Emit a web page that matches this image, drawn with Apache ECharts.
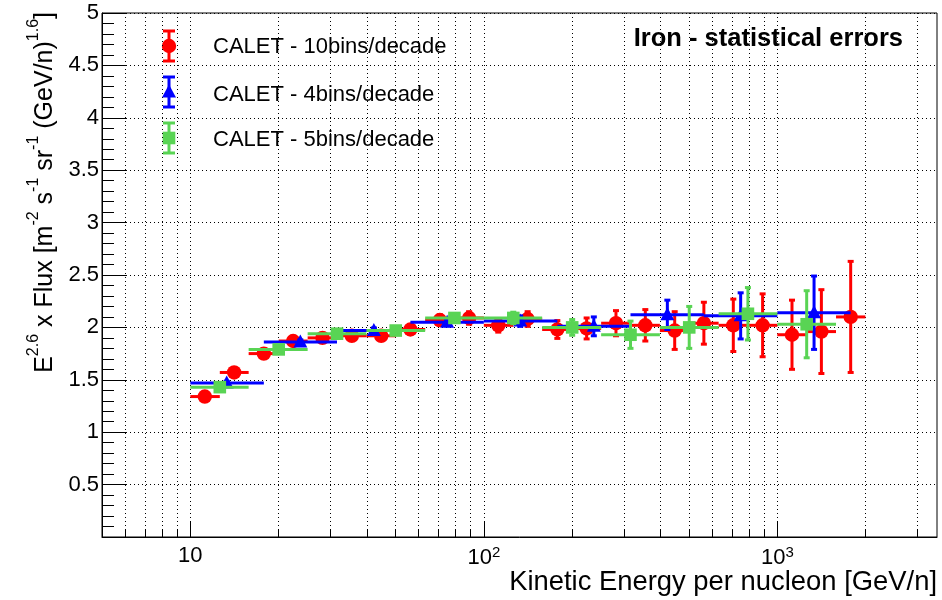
<!DOCTYPE html>
<html>
<head>
<meta charset="utf-8">
<script src="https://cdn.jsdelivr.net/npm/echarts@6/dist/echarts.min.js"></script>
<style>
  html, body { margin: 0; padding: 0; background: #ffffff; }
  #chart { width: 942px; height: 600px; }
</style>
</head>
<body>
<div id="chart"></div>
<script>
// CALET iron spectrum, flux multiplied by E^2.6, for three energy binnings.
const FONT = '"Liberation Sans", Arial, Helvetica, sans-serif';

// 10 bins per decade
const red10Energy = [11.2, 14.1, 17.8, 22.4, 28.2, 35.5, 44.7, 56.2, 70.8, 89.1, 112, 141, 178, 224, 282, 355, 447, 562, 708, 891, 1122, 1413, 1778];
const red10Edges = [10, 12.6, 15.8, 20.0, 25.1, 31.6, 39.8, 50.1, 63.1, 79.4, 100, 126, 158, 200, 251, 316, 398, 501, 631, 794, 1000, 1259, 1585, 1995];
const red10Flux = [1.34, 1.57, 1.75, 1.87, 1.90, 1.92, 1.92, 1.98, 2.07, 2.09, 2.02, 2.08, 1.98, 1.99, 2.04, 2.02, 1.97, 2.04, 2.02, 2.02, 1.93, 1.96, 2.10];
const red10Err = [0.02, 0.02, 0.025, 0.03, 0.03, 0.035, 0.04, 0.045, 0.05, 0.06, 0.065, 0.07, 0.085, 0.10, 0.12, 0.15, 0.18, 0.20, 0.25, 0.30, 0.33, 0.40, 0.53];

// 4 bins per decade
const blue4Energy = [13.3, 23.7, 42.2, 75.0, 133, 237, 422, 750, 1334];
const blue4Edges = [10, 17.8, 31.6, 56.2, 100, 178, 316, 562, 1000, 1778];
const blue4Flux = [1.47, 1.86, 1.97, 2.05, 2.06, 2.01, 2.12, 2.11, 2.14];
const blue4Err = [0.015, 0.02, 0.025, 0.035, 0.05, 0.09, 0.14, 0.22, 0.35];

// 5 bins per decade
const green5Energy = [12.6, 20.0, 31.6, 50.1, 79.4, 126, 200, 316, 501, 794, 1259];
const green5Edges = [10, 15.8, 25.1, 39.8, 63.1, 100, 158, 251, 398, 631, 1000, 1585];
const green5Flux = [1.43, 1.79, 1.94, 1.97, 2.09, 2.09, 2.00, 1.93, 2.00, 2.13, 2.03];
const green5Err = [0.015, 0.02, 0.025, 0.03, 0.04, 0.055, 0.075, 0.13, 0.20, 0.25, 0.32];

// axis ticks
const xMajorTicks = [10, 100, 1000];
const xAllTicks = [6, 7, 8, 9, 10, 20, 30, 40, 50, 60, 70, 80, 90, 100, 200, 300, 400, 500, 600, 700, 800, 900, 1000, 2000, 3000];
const legendLabels = ['CALET - 10bins/decade', 'CALET - 4bins/decade', 'CALET - 5bins/decade'];

const RED = '#ff0000', BLUE = '#0000ff', GREEN = '#59d454';
const LW = 3;

function markerShape(shape, cx, cy, color) {
  if (shape === 'circle') {
    return { type: 'circle', shape: { cx, cy, r: 7.2 }, style: { fill: color } };
  }
  if (shape === 'triangle') {
    return { type: 'polygon', shape: { points: [[cx, cy - 7.5], [cx - 7, cy + 5.5], [cx + 7, cy + 5.5]] }, style: { fill: color } };
  }
  return { type: 'rect', shape: { x: cx - 6.3, y: cy - 6.3, width: 12.6, height: 12.6 }, style: { fill: color } };
}

function errorSeries(name, color, shape, energy, edges, flux, err) {
  const data = energy.map((e, i) => [e, flux[i], edges[i], edges[i + 1], err[i]]);
  return {
    type: 'custom',
    name,
    data,
    encode: { x: [0, 2, 3], y: 1 },
    clip: true,
    renderItem(params, api) {
      const x = api.value(0), y = api.value(1);
      const lo = api.value(2), hi = api.value(3), e = api.value(4);
      const c = api.coord([x, y]);
      const pl = api.coord([lo, y]);
      const ph = api.coord([hi, y]);
      const pt = api.coord([x, y + e]);
      const pb = api.coord([x, y - e]);
      const ls = { stroke: color, lineWidth: LW };
      const cap = 3;
      const line = (x1, y1, x2, y2) => ({ type: 'line', shape: { x1, y1, x2, y2 }, style: ls });
      return {
        type: 'group',
        children: [
          line(pl[0], c[1], ph[0], c[1]),
          line(c[0], pt[1], c[0], pb[1]),
          line(c[0] - cap, pt[1], c[0] + cap, pt[1]),
          line(c[0] - cap, pb[1], c[0] + cap, pb[1]),
          markerShape(shape, c[0], c[1], color)
        ]
      };
    }
  };
}

function legendEntry(i, color, shape, label, ty) {
  const cx = 169, cy = 46 + i * 46;
  const ls = { stroke: color, lineWidth: LW };
  return [
    { type: 'line', shape: { x1: cx, y1: cy - 15, x2: cx, y2: cy + 15 }, style: ls },
    { type: 'line', shape: { x1: cx - 6, y1: cy - 15, x2: cx + 6, y2: cy - 15 }, style: ls },
    { type: 'line', shape: { x1: cx - 6, y1: cy + 15, x2: cx + 6, y2: cy + 15 }, style: ls },
    markerShape(shape, cx, cy, color),
    { type: 'text', x: 213, y: ty, style: { text: label, fill: '#000', fontSize: 22, fontFamily: FONT, align: 'left', verticalAlign: 'middle' } }
  ];
}

const chart = echarts.init(document.getElementById('chart'), null, { renderer: 'canvas' });

const dotted = { color: '#000', width: 1, type: [1, 3] };

chart.setOption({
  animation: false,
  backgroundColor: '#ffffff',
  grid: { left: 102, right: 5, top: 13, bottom: 63, show: true, borderColor: '#000', borderWidth: 1, containLabel: false },
  xAxis: [{
    type: 'log', logBase: 10, min: 5, max: 3500, position: 'bottom',
    axisLine: { show: true, lineStyle: { color: '#000', width: 1 } },
    axisTick: { show: true, inside: true, length: 8, customValues: xAllTicks, lineStyle: { color: '#000', width: 1 } },
    minorTick: { show: false },
    axisLabel: {
      customValues: xMajorTicks, color: '#000', fontSize: 22, fontFamily: FONT, margin: 8,
      formatter: v => v < 50 ? '10' : '10{sup|' + Math.round(Math.log10(v)) + '}',
      rich: { sup: { fontSize: 15, fontFamily: FONT, verticalAlign: 'top', padding: [0, 0, 10, 0] } }
    },
    splitLine: { show: true, lineStyle: dotted }
  }, {
    type: 'log', logBase: 10, min: 5, max: 3500, position: 'bottom',
    axisLine: { show: false },
    axisTick: { show: true, inside: true, length: 16, customValues: xMajorTicks, lineStyle: { color: '#000', width: 1 } },
    axisLabel: { show: false },
    splitLine: { show: false }
  }],
  yAxis: {
    type: 'value', min: 0, max: 5, interval: 0.5,
    axisLine: { show: true, lineStyle: { color: '#000', width: 1 } },
    axisTick: { show: true, inside: true, length: 25, lineStyle: { color: '#000', width: 1 } },
    minorTick: { show: true, splitNumber: 5, length: 12, lineStyle: { color: '#000', width: 1 } },
    axisLabel: { color: '#000', fontSize: 22, fontFamily: FONT, margin: 3, showMinLabel: false },
    splitLine: { show: true, lineStyle: dotted }
  },
  series: [
    errorSeries(legendLabels[0], RED, 'circle', red10Energy, red10Edges, red10Flux, red10Err),
    errorSeries(legendLabels[1], BLUE, 'triangle', blue4Energy, blue4Edges, blue4Flux, blue4Err),
    errorSeries(legendLabels[2], GREEN, 'rect', green5Energy, green5Edges, green5Flux, green5Err)
  ],
  graphic: [
    ...legendEntry(0, RED, 'circle', legendLabels[0], 47),
    ...legendEntry(1, BLUE, 'triangle', legendLabels[1], 95),
    ...legendEntry(2, GREEN, 'rect', legendLabels[2], 140),
    { type: 'text', x: 903, y: 39, style: { text: 'Iron - statistical errors', fill: '#000', fontSize: 25.5, fontWeight: 'bold', fontFamily: FONT, align: 'right', verticalAlign: 'middle' } },
    { type: 'text', x: 937, y: 582, style: { text: 'Kinetic Energy per nucleon [GeV/n]', fill: '#000', fontSize: 27.4, fontFamily: FONT, align: 'right', verticalAlign: 'middle' } },
    {
      type: 'text', x: 42, y: 12, rotation: Math.PI / 2,
      style: {
        text: '{m|E}{s|2.6}{m| x Flux [m}{s|-2}{m| s}{s|-1}{m| sr}{s|-1}{m| (GeV/n)}{s|1.6}{m|]}',
        align: 'right', verticalAlign: 'middle', fill: '#000',
        rich: {
          m: { fontSize: 25, fontFamily: FONT, fill: '#000', lineHeight: 32, verticalAlign: 'bottom' },
          s: { fontSize: 16, fontFamily: FONT, fill: '#000', lineHeight: 32, verticalAlign: 'top' }
        }
      }
    }
  ]
});
</script>
</body>
</html>
